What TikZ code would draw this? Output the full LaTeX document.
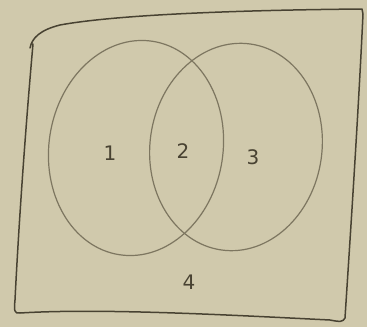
\documentclass[tikz,border=0pt]{standalone}
\usepackage{fontspec}
\setmainfont{DejaVu Sans}
\definecolor{paper}{RGB}{208,201,172}
\definecolor{pencil}{RGB}{125,118,96}
\definecolor{ink}{RGB}{72,66,50}
\begin{document}
\begin{tikzpicture}[x=1pt,y=-1pt,
  setline/.style={draw=pencil,line width=1.2pt},
  frameline/.style={draw=ink,line width=1.5pt,line cap=round,line join=round},
  lbl/.style={text=ink,font=\fontsize{20}{22}\selectfont,inner sep=0pt}]
\fill[paper] (0,0) rectangle (367,327);
\useasboundingbox (0,0) rectangle (367,327);
% frame
\draw[frameline] (30,48) .. controls (32,38) and (40,30) .. (60,25)
  .. controls (120,14) and (250,10) .. (362,9)
  -- (363,14) .. controls (358,120) and (350,240) .. (345,318)
  .. controls (343,322) and (340,322) .. (330,320)
  .. controls (230,315) and (100,308) .. (20,313)
  .. controls (14,314) and (14,310) .. (15,300)
  .. controls (20,200) and (28,100) .. (33,44);
% sets
\coordinate (A) at (136,148);
\coordinate (B) at (236,147);
\draw[setline,rotate around={-9:(A)}] (A) ellipse [x radius=87, y radius=108];
\draw[setline,rotate around={-8:(B)}] (B) ellipse [x radius=86, y radius=104];
% labels
\node[lbl] (n1) at (110,153) {1};
\node[lbl] (n2) at (183,151) {2};
\node[lbl] (n3) at (253,157) {3};
\node[lbl] (n4) at (189,282) {4};
\end{tikzpicture}
\end{document}
